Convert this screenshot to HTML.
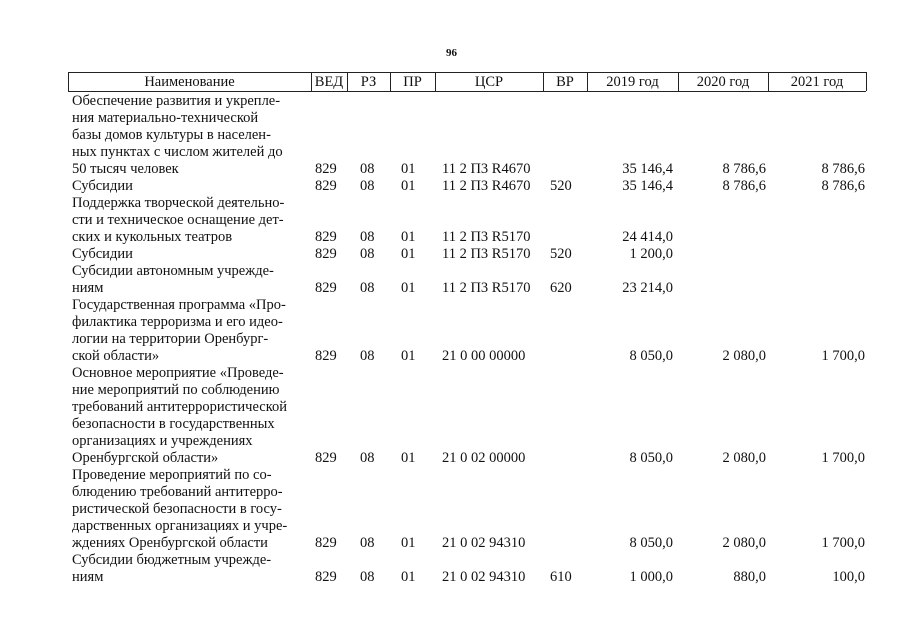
<!DOCTYPE html>
<html><head><meta charset="utf-8"><style>
body{margin:0;background:#fff;font-family:"Liberation Serif","Times New Roman",serif;}
#p{position:relative;width:905px;height:640px;overflow:hidden;font-size:14.5px;color:#111;}
.t{position:absolute;white-space:nowrap;line-height:17px;font-family:"Liberation Serif",serif;font-size:14.5px;margin-top:2px;}
.r{text-align:right;}
.v{position:absolute;top:72px;height:19px;border-left:1px solid #222;}
.h{position:absolute;top:74px;line-height:17px;text-align:center;font-family:"Liberation Serif",serif;font-size:14.5px;}
</style></head><body><div id="p">
<div class="t" style="left:446px;top:43px;font-size:11px;font-weight:bold;">96</div>
<div style="position:absolute;left:68px;top:72px;width:798px;height:18px;border-top:1px solid #222;border-bottom:1px solid #222;"></div>
<div class="v" style="left:68px"></div><div class="v" style="left:311px"></div><div class="v" style="left:347px"></div><div class="v" style="left:390px"></div><div class="v" style="left:435px"></div><div class="v" style="left:543px"></div><div class="v" style="left:587px"></div><div class="v" style="left:678px"></div><div class="v" style="left:768px"></div><div class="v" style="left:866px"></div>
<div class="h" style="left:68px;width:243px">Наименование</div>
<div class="h" style="left:311px;width:36px">ВЕД</div>
<div class="h" style="left:347px;width:43px">РЗ</div>
<div class="h" style="left:390px;width:45px">ПР</div>
<div class="h" style="left:435px;width:108px">ЦСР</div>
<div class="h" style="left:543px;width:44px">ВР</div>
<div class="h" style="left:587px;width:91px">2019 год</div>
<div class="h" style="left:678px;width:90px">2020 год</div>
<div class="h" style="left:768px;width:98px">2021 год</div>
<div class="t" style="left:72px;top:91px">Обеспечение развития и укрепле-</div>
<div class="t" style="left:72px;top:108px">ния материально-технической</div>
<div class="t" style="left:72px;top:125px">базы домов культуры в населен-</div>
<div class="t" style="left:72px;top:142px">ных пунктах с числом жителей до</div>
<div class="t" style="left:72px;top:159px">50 тысяч человек</div>
<div class="t" style="left:72px;top:176px">Субсидии</div>
<div class="t" style="left:72px;top:193px">Поддержка творческой деятельно-</div>
<div class="t" style="left:72px;top:210px">сти и техническое оснащение дет-</div>
<div class="t" style="left:72px;top:227px">ских и кукольных театров</div>
<div class="t" style="left:72px;top:244px">Субсидии</div>
<div class="t" style="left:72px;top:261px">Субсидии автономным учрежде-</div>
<div class="t" style="left:72px;top:278px">ниям</div>
<div class="t" style="left:72px;top:295px">Государственная программа «Про-</div>
<div class="t" style="left:72px;top:312px">филактика терроризма и его идео-</div>
<div class="t" style="left:72px;top:329px">логии на территории Оренбург-</div>
<div class="t" style="left:72px;top:346px">ской области»</div>
<div class="t" style="left:72px;top:363px">Основное мероприятие «Проведе-</div>
<div class="t" style="left:72px;top:380px">ние мероприятий по соблюдению</div>
<div class="t" style="left:72px;top:397px">требований антитеррористической</div>
<div class="t" style="left:72px;top:414px">безопасности в государственных</div>
<div class="t" style="left:72px;top:431px">организациях и учреждениях</div>
<div class="t" style="left:72px;top:448px">Оренбургской области»</div>
<div class="t" style="left:72px;top:465px">Проведение мероприятий по со-</div>
<div class="t" style="left:72px;top:482px">блюдению требований антитерро-</div>
<div class="t" style="left:72px;top:499px">ристической безопасности в госу-</div>
<div class="t" style="left:72px;top:516px">дарственных организациях и учре-</div>
<div class="t" style="left:72px;top:533px">ждениях Оренбургской области</div>
<div class="t" style="left:72px;top:550px">Субсидии бюджетным учрежде-</div>
<div class="t" style="left:72px;top:567px">ниям</div>
<div id="rows"></div>
</div>
<script>
var d=[[159,"11 2 П3 R4670","","35 146,4","8 786,6","8 786,6"],[176,"11 2 П3 R4670","520","35 146,4","8 786,6","8 786,6"],[227,"11 2 П3 R5170","","24 414,0","",""],[244,"11 2 П3 R5170","520","1 200,0","",""],[278,"11 2 П3 R5170","620","23 214,0","",""],[346,"21 0 00 00000","","8 050,0","2 080,0","1 700,0"],[448,"21 0 02 00000","","8 050,0","2 080,0","1 700,0"],[533,"21 0 02 94310","","8 050,0","2 080,0","1 700,0"],[567,"21 0 02 94310","610","1 000,0","880,0","100,0"]];
var h="";d.forEach(function(r){var y=r[0];
h+='<div class="t" style="left:315px;top:'+y+'px">829</div><div class="t" style="left:360px;top:'+y+'px">08</div><div class="t" style="left:401px;top:'+y+'px">01</div><div class="t" style="left:442px;top:'+y+'px">'+r[1]+'</div><div class="t" style="left:550px;top:'+y+'px">'+r[2]+'</div>';
h+='<div class="t r" style="left:573px;width:100px;top:'+y+'px">'+r[3]+'</div><div class="t r" style="left:666px;width:100px;top:'+y+'px">'+r[4]+'</div><div class="t r" style="left:765px;width:100px;top:'+y+'px">'+r[5]+'</div>';});
document.getElementById("rows").innerHTML=h;
</script>
</body></html>
